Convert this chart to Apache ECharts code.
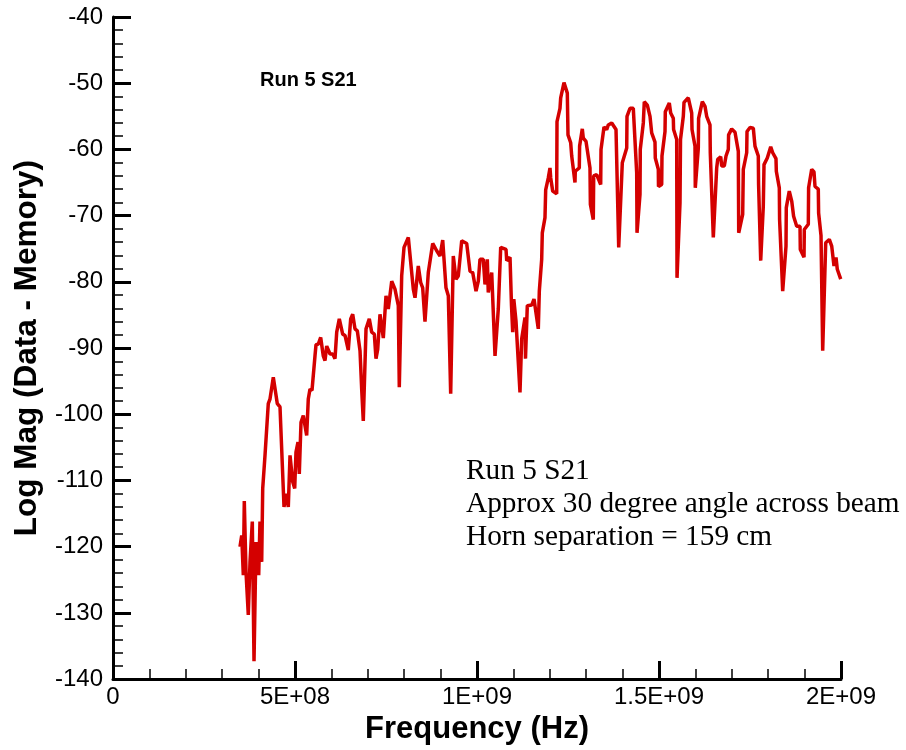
<!DOCTYPE html>
<html>
<head>
<meta charset="utf-8">
<title>Run 5 S21</title>
<script src="https://cdn.jsdelivr.net/npm/echarts@6/dist/echarts.min.js"></script>
<style>
  html, body { margin: 0; padding: 0; background: #fff; }
  #chart { width: 906px; height: 750px; }
</style>
</head>
<body>
<div id="chart"></div>
<script>
// Sweep frequency (MHz) and measured S21 log magnitude (dB, data - memory)
const freqMHz = [
  348.9, 353.6, 358.0, 360.7, 365.4, 371.7, 376.4, 382.7, 387.4, 392.9,
  400.3, 403.8, 408.5, 411.3, 417.6, 426.6, 431.3, 440.4, 451.4, 458.8,
  469.8, 475.3, 481.6, 486.3, 493.7, 499.2, 502.7, 508.2, 511.8, 516.5,
  522.8, 532.1, 536.5, 541.2, 546.7, 554.9, 557.7, 564.0, 570.6, 577.7,
  582.4, 587.1, 596.2, 603.6, 609.9, 614.6, 621.7, 631.0, 637.4, 646.4,
  653.0, 658.5, 664.8, 671.2, 678.6, 683.2, 687.6, 695.1, 704.1, 710.7,
  717.9, 722.5, 727.2, 733.5, 738.2, 742.6, 750.0, 756.3, 765.7, 774.7,
  783.8, 786.5, 793.1, 799.5, 811.3, 825.0, 829.7, 838.7, 845.3, 850.8,
  857.1, 866.2, 870.9, 878.3, 889.3, 898.4, 905.8, 914.8, 921.2, 927.7,
  934.9, 942.3, 948.6, 958.0, 971.7, 980.8, 988.2, 997.3, 1003.6, 1008.2,
  1017.3, 1022.0, 1028.3, 1031.0, 1040.4, 1049.5, 1058.5, 1065.1, 1079.7, 1081.6,
  1090.7, 1094.8, 1098.1, 1101.1, 1107.1, 1118.1, 1122.8, 1131.9, 1133.2, 1138.2,
  1150.3, 1156.6, 1159.3, 1168.4, 1171.2, 1177.7, 1179.4, 1186.8, 1188.7, 1195.9,
  1200.5, 1202.5, 1208.0, 1218.9, 1219.8, 1228.0, 1229.9, 1239.0, 1248.1, 1250.0,
  1257.4, 1260.2, 1269.2, 1270.0, 1281.0, 1281.9, 1289.3, 1292.0, 1299.5, 1310.4,
  1311.5, 1319.5, 1320.6, 1328.8, 1339.8, 1340.7, 1348.9, 1356.3, 1360.7, 1370.1,
  1381.9, 1389.3, 1399.2, 1411.3, 1412.1, 1420.3, 1429.4, 1438.7, 1439.6, 1447.8,
  1448.6, 1456.9, 1459.6, 1467.9, 1475.3, 1479.9, 1489.0, 1489.8, 1498.1, 1498.6,
  1507.4, 1508.2, 1516.5, 1517.3, 1528.3, 1532.1, 1539.3, 1540.1, 1548.6, 1549.5,
  1557.7, 1559.1, 1566.8, 1568.7, 1580.5, 1589.8, 1590.7, 1598.9, 1599.7, 1608.0,
  1608.8, 1619.0, 1626.4, 1631.0, 1640.1, 1640.9, 1649.2, 1658.5, 1661.3, 1669.5,
  1672.3, 1679.4, 1684.1, 1690.4, 1691.2, 1699.7, 1708.8, 1717.9, 1719.0, 1729.9,
  1731.6, 1740.9, 1741.8, 1750.0, 1759.1, 1763.7, 1772.8, 1773.6, 1779.4, 1786.5,
  1788.5, 1797.5, 1806.9, 1812.4, 1821.4, 1822.3, 1830.5, 1831.3, 1839.8, 1848.9,
  1849.7, 1857.9, 1864.6, 1868.9, 1869.8, 1878.3, 1887.4, 1888.2, 1898.4, 1899.2,
  1910.2, 1911.0, 1919.5, 1925.8, 1928.6, 1937.6, 1938.5, 1945.1, 1949.7, 1958.0,
  1967.9, 1974.5, 1980.8, 1986.3, 1989.8, 1999.2
];
const magDb = [
  -120.0, -118.3, -124.3, -113.1, -123.8, -130.3, -122.3, -116.2, -137.3, -119.3,
  -124.3, -116.2, -122.3, -111.2, -106.2, -98.4, -97.7, -94.4, -98.4, -98.9,
  -114.0, -112.0, -114.0, -106.2, -110.2, -111.2, -105.7, -104.2, -109.0, -101.2,
  -100.2, -103.2, -97.7, -96.2, -96.4, -91.2, -89.5, -89.4, -88.4, -91.2,
  -91.9, -89.7, -90.9, -90.9, -91.6, -87.6, -85.6, -87.9, -88.1, -90.3,
  -85.6, -84.9, -87.1, -87.4, -90.4, -96.2, -101.0, -87.1, -85.6, -87.6,
  -87.9, -91.6, -90.2, -84.9, -85.1, -88.5, -82.1, -84.1, -79.9, -81.1,
  -83.6, -95.9, -79.1, -74.8, -73.3, -81.1, -82.4, -77.6, -80.1, -80.9,
  -86.0, -78.6, -78.6, -74.2, -75.3, -76.1, -73.7, -80.9, -82.1, -96.9,
  -76.1, -79.6, -79.1, -73.8, -74.2, -78.4, -78.6, -81.4, -79.9, -76.6,
  -76.6, -80.4, -76.6, -81.6, -78.6, -91.2, -84.1, -74.8, -75.1, -76.8,
  -76.3, -83.6, -87.6, -82.6, -85.9, -96.7, -88.6, -85.4, -91.6, -83.6,
  -83.5, -82.6, -82.6, -87.1, -81.4, -76.6, -72.6, -70.3, -66.1, -64.3,
  -62.8, -64.3, -66.3, -66.7, -55.8, -53.8, -52.2, -49.9, -51.5, -57.8,
  -59.0, -61.0, -65.0, -63.3, -62.8, -59.5, -56.9, -58.3, -58.8, -62.8,
  -68.3, -70.6, -64.0, -63.8, -65.3, -60.0, -56.6, -57.0, -56.3, -56.0,
  -57.0, -74.8, -62.0, -59.8, -55.0, -53.8, -53.8, -63.5, -72.6, -66.8,
  -60.0, -56.0, -52.8, -53.3, -55.0, -57.5, -58.9, -61.3, -63.0, -65.6,
  -65.3, -61.0, -57.3, -54.3, -53.0, -54.5, -55.3, -57.0, -58.5, -79.4,
  -68.1, -58.5, -55.0, -52.9, -52.2, -54.5, -57.0, -59.5, -65.8, -59.8,
  -55.3, -52.8, -53.5, -55.0, -56.3, -60.5, -73.3, -62.8, -61.5, -61.1,
  -62.5, -62.5, -61.0, -60.0, -57.8, -56.9, -57.4, -60.3, -72.6, -69.8,
  -63.0, -60.5, -57.3, -56.7, -56.8, -59.5, -61.0, -65.3, -76.8, -68.6,
  -62.3, -61.3, -59.6, -60.5, -61.4, -63.3, -65.8, -70.6, -81.4, -74.6,
  -68.8, -66.3, -67.8, -68.0, -70.1, -71.6, -71.6, -75.1, -76.3, -72.1,
  -71.3, -65.8, -63.0, -63.4, -65.6, -66.0, -69.6, -73.0, -90.4, -74.1,
  -73.6, -74.6, -77.6, -76.3, -78.1, -79.6
];

// Axis tick values and their printed labels
const xTickValues = [0, 5e8, 1e9, 1.5e9, 2e9];
const xTickLabels = ['0', '5E+08', '1E+09', '1.5E+09', '2E+09'];
const yTicks = [-140, -130, -120, -110, -100, -90, -80, -70, -60, -50, -40];

const noteLines = [
  'Run 5 S21',
  'Approx 30 degree angle across beam',
  'Horn separation = 159 cm'
];

const seriesData = freqMHz.map((f, i) => [f * 1e6, magDb[i]]);

const chart = echarts.init(document.getElementById('chart'), null, { renderer: 'canvas' });

const sans = 'Arial, "Liberation Sans", Helvetica, sans-serif';
const serif = '"Times New Roman", "Liberation Serif", Times, serif';

chart.setOption({
  animation: false,
  backgroundColor: '#ffffff',
  grid: { left: 113, right: 65, top: 17, bottom: 68, containLabel: false },
  xAxis: {
    type: 'value',
    min: 0,
    max: 2e9,
    interval: 5e8,
    name: 'Frequency (Hz)',
    nameLocation: 'middle',
    nameGap: 29,
    nameTextStyle: { fontFamily: sans, fontWeight: 'bold', fontSize: 31, color: '#000' },
    axisLine: { show: true, onZero: false, lineStyle: { color: '#000', width: 3 } },
    axisTick: { show: true, inside: true, length: 18, lineStyle: { color: '#000', width: 3 } },
    minorTick: { show: true, splitNumber: 5, length: 10, lineStyle: { color: '#000', width: 1.5 } },
    splitLine: { show: false },
    axisLabel: {
      margin: 6,
      fontFamily: sans,
      fontSize: 24,
      color: '#000',
      formatter: (v) => {
        const i = xTickValues.indexOf(v);
        return i >= 0 ? xTickLabels[i] : '';
      }
    }
  },
  yAxis: {
    type: 'value',
    min: yTicks[0],
    max: yTicks[yTicks.length - 1],
    interval: 10,
    name: 'Log Mag (Data - Memory)',
    nameLocation: 'middle',
    nameGap: 70,
    nameTextStyle: { fontFamily: sans, fontWeight: 'bold', fontSize: 31.5, color: '#000' },
    axisLine: { show: true, onZero: false, lineStyle: { color: '#000', width: 3 } },
    axisTick: { show: true, inside: true, length: 18, lineStyle: { color: '#000', width: 3 } },
    minorTick: { show: true, splitNumber: 5, length: 10, lineStyle: { color: '#000', width: 1.5 } },
    splitLine: { show: false },
    axisLabel: { margin: 10, fontFamily: sans, fontSize: 24, color: '#000' }
  },
  graphic: [
    {
      type: 'text',
      left: 260,
      top: 70,
      style: { text: 'Run 5 S21', fontFamily: sans, fontWeight: 'bold', fontSize: 20, fill: '#000' }
    },
    ...noteLines.map((t, i) => ({
      type: 'text',
      x: 466,
      y: 471 + i * 33,
      style: {
        text: t,
        fontFamily: serif,
        fontSize: 29.3,
        fill: '#000',
        verticalAlign: 'middle',
        align: 'left'
      }
    }))
  ],
  series: [
    {
      type: 'line',
      data: seriesData,
      showSymbol: false,
      symbol: 'none',
      smooth: false,
      lineStyle: { color: '#d40000', width: 3.5 },
      itemStyle: { color: '#d40000' }
    }
  ]
});
</script>
</body>
</html>
